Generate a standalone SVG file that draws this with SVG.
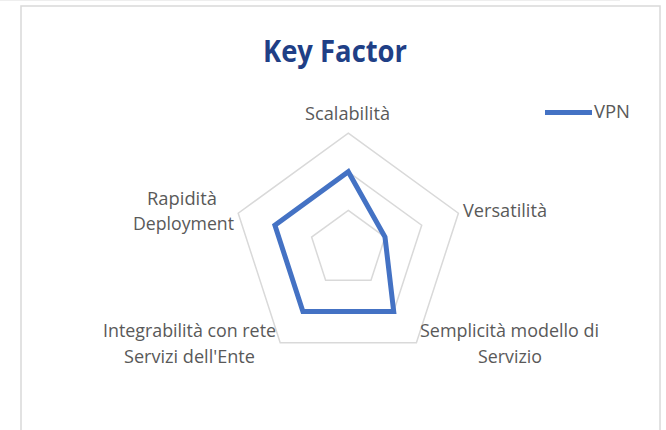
<svg xmlns="http://www.w3.org/2000/svg" width="666" height="430" viewBox="0 0 666 430">
  <style>
    .lbl { font-family: "Open Sans", "Liberation Sans", sans-serif; font-size: 17.5px; fill: #595959; }
    .ring { fill: none; stroke: #d9d9d9; stroke-width: 1.5; }
    .data { fill: none; stroke: #4472c4; stroke-width: 5; stroke-linejoin: miter; }
  </style>
  <rect x="0" y="0" width="666" height="430" fill="#ffffff"/>
  <line x1="0" y1="0.5" x2="620" y2="0.5" stroke="#eeeeee" stroke-width="1"/>
  <rect id="frame" x="21" y="6" width="639" height="440" fill="#ffffff" stroke="#d9d9d9" stroke-width="1.5"/>
  <g id="title">
    <text x="335" y="62" text-anchor="middle" textLength="144" lengthAdjust="spacingAndGlyphs" font-family="'Open Sans', 'Liberation Sans', sans-serif" font-weight="bold" font-size="30" fill="#1f3f86">Key Factor</text>
  </g>
  <g id="grid">
    <polygon class="ring" points="348.3,133.2 458.4,213.2 416.4,342.7 280.2,342.7 238.2,213.2"/>
    <polygon class="ring" points="348.3,171.8 421.7,225.2 393.7,311.5 302.9,311.5 274.9,225.2"/>
    <polygon class="ring" points="348.3,210.4 385.0,237.1 371.0,280.2 325.6,280.2 311.6,237.1"/>
  </g>
  <g id="connectors">
    <polygon id="series-vpn" class="data" points="348.3,171.8 385.0,237.1 393.7,311.5 302.9,311.5 274.9,225.2"/>
  </g>
  <g id="axis-scalabilita">
    <text class="lbl" x="305" y="120" textLength="85" lengthAdjust="spacingAndGlyphs">Scalabilità</text>
  </g>
  <g id="axis-versatilita">
    <text class="lbl" x="463" y="217" textLength="84" lengthAdjust="spacingAndGlyphs">Versatilità</text>
  </g>
  <g id="axis-semplicita">
    <text class="lbl" x="420" y="337" textLength="179" lengthAdjust="spacingAndGlyphs">Semplicità modello di</text>
    <text class="lbl" x="478" y="363" textLength="64" lengthAdjust="spacingAndGlyphs">Servizio</text>
  </g>
  <g id="axis-integrabilita">
    <text class="lbl" x="103" y="337" textLength="173" lengthAdjust="spacingAndGlyphs">Integrabilità con rete</text>
    <text class="lbl" x="124" y="363" textLength="131" lengthAdjust="spacingAndGlyphs">Servizi dell'Ente</text>
  </g>
  <g id="axis-rapidita">
    <text class="lbl" x="147" y="205" textLength="70" lengthAdjust="spacingAndGlyphs">Rapidità</text>
    <text class="lbl" x="133" y="230" textLength="101" lengthAdjust="spacingAndGlyphs">Deployment</text>
  </g>
  <g id="legend">
    <line x1="545" y1="112.5" x2="592" y2="112.5" stroke="#4472c4" stroke-width="5"/>
    <text class="lbl" x="594" y="118" textLength="36" lengthAdjust="spacingAndGlyphs">VPN</text>
  </g>
</svg>
